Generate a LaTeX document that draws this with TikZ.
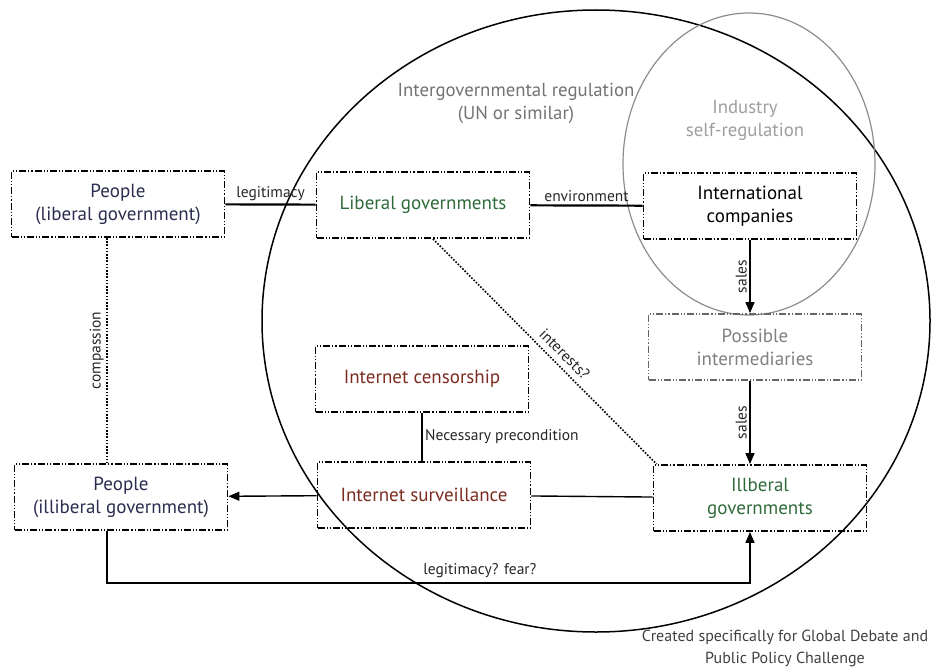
\documentclass[tikz,border=0pt]{standalone}
\usepackage{fontspec}
\setmainfont{PT Sans}
\usepackage{tikz}
\usetikzlibrary{arrows.meta,calc}
\definecolor{peopleblue}{HTML}{2B2D4F}
\definecolor{govgreen}{HTML}{2F6B3A}
\definecolor{netred}{HTML}{7B2B1F}
\tikzset{
	actor/.style={draw, line width=1.8pt, dash pattern=on 7pt off 2pt on 1.2pt off 2pt on 1.2pt off 2pt, minimum width=213pt, minimum height=66pt, align=center, font=\fontsize{19}{23}\selectfont},
	lbl/.style={font=\fontsize{15.5}{18}\selectfont, text=black!85, inner sep=2.5pt},
	tip/.style={-{Triangle[length=11pt,width=9pt]}},
	dots/.style={line width=1.6pt, dash pattern=on 1.6pt off 1.6pt}
}

\begin{document}
\begin{tikzpicture}[x=1pt, y=-1pt]
		%%%%% START %%%%%
		\useasboundingbox (0, 0) rectangle (931, 669);
		
		\draw[line width=1.5pt] (596, 321) ellipse [x radius=334pt, y radius=311pt];
		\draw[line width=1.2pt, color=black!45] (749, 164) ellipse [x radius=126pt, y radius=151pt];
		
		\node[text=black!55, align=center, font=\fontsize{18.8}{23}\selectfont] (igreg) at (516, 103) {Intergovernmental regulation\\(UN or similar)};
		\node[text=black!38, align=center, font=\fontsize{18.8}{23}\selectfont] (selfreg) at (745, 120) {Industry\\self-regulation};
		
		\node[actor, text=peopleblue] (plib) at (118, 204) {People\\(liberal government)};
		\node[actor, text=govgreen] (libgov) at (423, 205) {Liberal governments};
		\node[actor] (intco) at (750, 206) {International\\companies};
		\node[actor, draw=black!60, text=black!50] (inter) at (755, 347) {Possible\\intermediaries};
		
		\node[actor, text=netred] (cens) at (422, 379) {Internet censorship};
		\node[actor, text=netred] (surv) at (424, 495) {Internet surveillance};
		\node[actor, text=peopleblue] (pill) at (121, 497) {People\\(illiberal government)};
		\node[actor, text=govgreen] (illib) at (760, 498) {Illberal\\governments};
		
		\draw[line width=2.2pt] (plib) -- (libgov) node[lbl, midway, above] {legitimacy};
		\draw[line width=2.2pt] (libgov) -- (intco) node[lbl, midway, above] {environment};
		\draw[line width=1.4pt, tip] (intco.south) -- (intco.south |- inter.north) node[lbl, midway, rotate=90, above] {sales};
		\draw[line width=1.4pt, tip] (intco.south |- inter.south) -- (intco.south |- illib.north) node[lbl, midway, rotate=90, above] {sales};
		
		\draw[dots] ([xshift=10pt]libgov.south) -- ([xshift=4pt]illib.north west) node[lbl, pos=0.55, sloped, above, inner sep=6pt] {interests?};
		\draw[dots] ([xshift=-11pt]plib.south) -- ([xshift=-11pt]plib.south |- pill.north) node[lbl, midway, rotate=90, above] {compassion};
		
		\draw[line width=1.4pt] (cens.south) -- (cens.south |- surv.north) node[lbl, midway, right] {Necessary precondition};
		\draw[line width=1.4pt, tip] (surv) -- (pill);
		\draw[line width=1.4pt] (illib) -- (surv);
		\draw[line width=1.4pt, tip] ([xshift=-14pt]pill.south) -- ++(0, 52) -| ([xshift=-10pt]illib.south) node[lbl, pos=0.29, above, inner sep=4pt] {legitimacy? fear?};
		
		\node[text=black!75, align=center, font=\fontsize{16}{22}\selectfont] (credit) at (785, 648) {Created specifically for Global Debate and\\Public Policy Challenge};
		%%%%% END %%%%%
\end{tikzpicture}
\end{document}
